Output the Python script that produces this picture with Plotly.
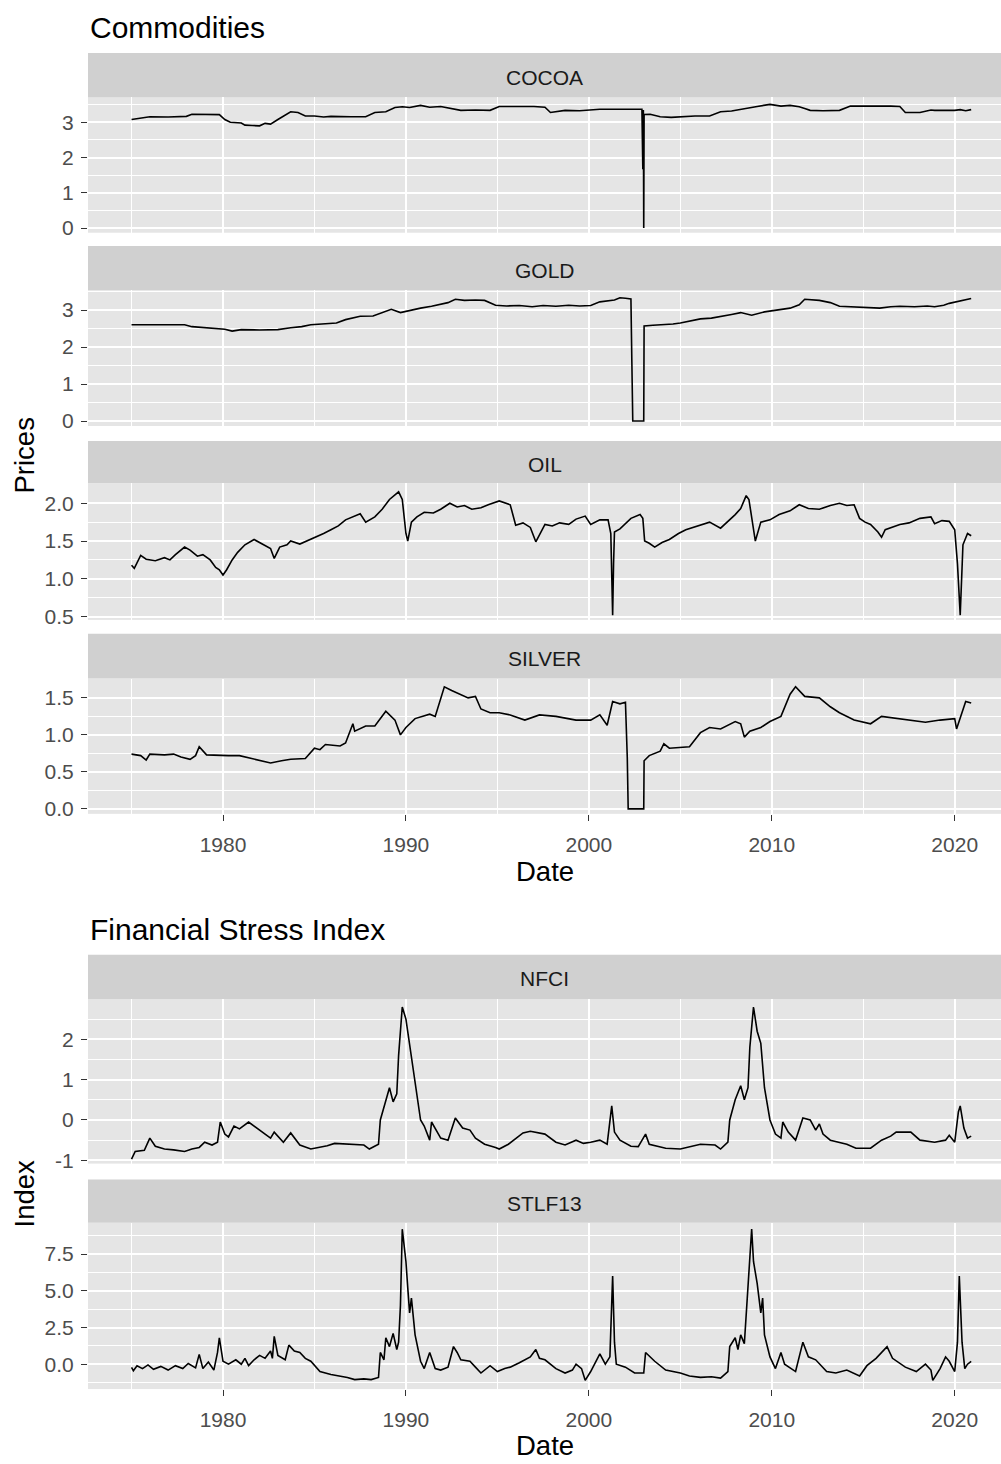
import plotly.graph_objects as go

W, H = 1001, 1464

# ---- data: (decimal year, value) readings per series ----
cocoa = [(1975.0, 3.08), (1975.2, 3.10), (1975.6, 3.12), (1976.0, 3.16), (1977.0, 3.15), (1978.0, 3.17),
         (1978.3, 3.23), (1979.0, 3.23), (1979.8, 3.22), (1980.1, 3.08), (1980.4, 3.00), (1981.0, 2.98),
         (1981.2, 2.92), (1981.6, 2.91), (1982.0, 2.90), (1982.3, 2.97), (1982.6, 2.95), (1983.0, 3.08),
         (1983.4, 3.22), (1983.7, 3.30), (1984.1, 3.28), (1984.5, 3.18), (1985.0, 3.18), (1985.5, 3.15),
         (1985.9, 3.17), (1986.4, 3.16), (1987.0, 3.16), (1987.8, 3.16), (1988.3, 3.28), (1988.9, 3.30),
         (1989.4, 3.42), (1989.8, 3.44), (1990.2, 3.42), (1990.8, 3.48), (1991.3, 3.43), (1991.9, 3.45),
         (1992.5, 3.40), (1993.0, 3.34), (1993.8, 3.35), (1994.6, 3.34), (1995.1, 3.45), (1996.0, 3.46),
         (1997.0, 3.45), (1997.6, 3.43), (1997.9, 3.28), (1998.7, 3.34), (1999.5, 3.33), (2000.6, 3.37),
         (2001.5, 3.36), (2002.3, 3.37), (2002.9, 3.37), (2002.95, 1.67), (2002.98, 3.35), (2003.0, 0.0),
         (2003.02, 3.22), (2003.35, 3.23), (2003.9, 3.16), (2004.5, 3.14), (2005.0, 3.16), (2005.8, 3.18),
         (2006.6, 3.18), (2007.2, 3.30), (2007.8, 3.32), (2008.3, 3.36), (2008.5, 3.38), (2009.2, 3.45),
         (2009.9, 3.51), (2010.5, 3.46), (2011.0, 3.48), (2011.5, 3.44), (2011.8, 3.39), (2012.1, 3.34),
         (2012.8, 3.33), (2013.7, 3.34), (2014.3, 3.46), (2015.0, 3.46), (2015.4, 3.48), (2016.0, 3.48),
         (2016.5, 3.46), (2017.0, 3.45), (2017.3, 3.28), (2018.1, 3.28), (2018.7, 3.35), (2018.9, 3.34),
         (2019.5, 3.33), (2020.0, 3.34), (2020.3, 3.36), (2020.6, 3.33), (2020.9, 3.36)]

gold = [(1975.0, 2.60), (1976.0, 2.60), (1977.0, 2.60), (1977.9, 2.60), (1978.3, 2.55), (1979.0, 2.52),
        (1979.5, 2.49), (1980.1, 2.48), (1980.5, 2.43), (1981.0, 2.47), (1982.0, 2.46), (1983.0, 2.47),
        (1983.7, 2.52), (1984.3, 2.55), (1984.8, 2.60), (1985.5, 2.62), (1986.2, 2.65), (1986.7, 2.74),
        (1987.5, 2.83), (1988.2, 2.84), (1988.9, 2.98), (1989.2, 3.02), (1989.7, 2.93), (1990.3, 3.00),
        (1990.8, 3.05), (1991.4, 3.10), (1991.9, 3.15), (1992.3, 3.20), (1992.7, 3.29), (1993.2, 3.26),
        (1993.8, 3.27), (1994.3, 3.26), (1994.9, 3.13), (1995.5, 3.11), (1996.2, 3.12), (1996.9, 3.09),
        (1997.5, 3.12), (1998.2, 3.10), (1998.9, 3.13), (1999.5, 3.11), (2000.1, 3.12), (2000.6, 3.22),
        (2001.4, 3.27), (2001.7, 3.33), (2002.0, 3.32), (2002.3, 3.30), (2002.35, 1.61), (2002.4, 0.0),
        (2003.0, 0.0), (2003.02, 2.57), (2003.5, 2.59), (2004.0, 2.60), (2004.6, 2.62), (2005.0, 2.65),
        (2005.6, 2.70), (2006.1, 2.76), (2006.7, 2.78), (2007.2, 2.82), (2007.8, 2.88), (2008.3, 2.93),
        (2008.9, 2.86), (2009.6, 2.95), (2010.3, 3.00), (2011.0, 3.05), (2011.5, 3.14), (2011.8, 3.29),
        (2012.6, 3.26), (2013.2, 3.20), (2013.7, 3.10), (2014.4, 3.08), (2015.2, 3.07), (2015.9, 3.05),
        (2016.5, 3.09), (2017.0, 3.10), (2017.8, 3.09), (2018.5, 3.11), (2018.9, 3.09), (2019.4, 3.13),
        (2019.7, 3.18), (2020.3, 3.25), (2020.6, 3.28), (2020.9, 3.31)]

oil = [(1975.0, 1.18), (1975.15, 1.14), (1975.5, 1.31), (1975.8, 1.26), (1976.3, 1.24), (1976.8, 1.28),
       (1977.1, 1.25), (1977.4, 1.32), (1977.9, 1.42), (1978.2, 1.38), (1978.6, 1.30), (1978.9, 1.32),
       (1979.3, 1.25), (1979.6, 1.15), (1979.8, 1.12), (1980.0, 1.05), (1980.2, 1.12), (1980.5, 1.25),
       (1980.8, 1.35), (1981.2, 1.45), (1981.7, 1.52), (1982.0, 1.48), (1982.3, 1.45), (1982.6, 1.40),
       (1982.8, 1.27), (1983.1, 1.42), (1983.5, 1.45), (1983.7, 1.50), (1984.2, 1.46), (1984.6, 1.50),
       (1985.0, 1.55), (1985.5, 1.60), (1985.9, 1.65), (1986.3, 1.70), (1986.7, 1.78), (1987.1, 1.82),
       (1987.5, 1.86), (1987.8, 1.75), (1988.3, 1.82), (1988.7, 1.92), (1989.1, 2.05), (1989.6, 2.15),
       (1989.8, 2.05), (1990.0, 1.60), (1990.1, 1.50), (1990.3, 1.75), (1990.6, 1.82), (1991.0, 1.88),
       (1991.5, 1.87), (1991.9, 1.92), (1992.4, 2.00), (1992.8, 1.95), (1993.2, 1.97), (1993.6, 1.92),
       (1994.1, 1.94), (1994.5, 1.98), (1995.1, 2.03), (1995.7, 1.98), (1996.0, 1.71), (1996.4, 1.74),
       (1996.8, 1.68), (1997.1, 1.49), (1997.6, 1.72), (1998.0, 1.70), (1998.4, 1.74), (1998.9, 1.72),
       (1999.3, 1.79), (1999.8, 1.83), (2000.1, 1.72), (2000.6, 1.78), (2001.05, 1.78), (2001.2, 1.60),
       (2001.3, 0.52), (2001.35, 1.20), (2001.4, 1.62), (2001.7, 1.66), (2002.3, 1.80), (2002.8, 1.85),
       (2002.95, 1.80), (2003.05, 1.50), (2003.3, 1.47), (2003.6, 1.42), (2004.0, 1.48), (2004.4, 1.52),
       (2004.9, 1.60), (2005.3, 1.65), (2005.7, 1.68), (2006.1, 1.72), (2006.6, 1.75), (2007.2, 1.67),
       (2007.7, 1.78), (2008.0, 1.85), (2008.3, 1.93), (2008.6, 2.10), (2008.75, 2.05), (2008.9, 1.80),
       (2009.1, 1.50), (2009.4, 1.75), (2009.9, 1.78), (2010.4, 1.85), (2011.0, 1.90), (2011.5, 1.98),
       (2012.0, 1.93), (2012.6, 1.92), (2013.2, 1.97), (2013.7, 2.00), (2014.1, 1.97), (2014.5, 1.98),
       (2014.8, 1.80), (2015.1, 1.75), (2015.4, 1.72), (2015.8, 1.62), (2016.0, 1.55), (2016.2, 1.65),
       (2016.6, 1.68), (2017.0, 1.72), (2017.5, 1.74), (2018.1, 1.80), (2018.7, 1.82), (2018.9, 1.73),
       (2019.3, 1.77), (2019.7, 1.76), (2020.0, 1.65), (2020.15, 1.20), (2020.3, 0.52), (2020.35, 0.80),
       (2020.45, 1.45), (2020.7, 1.60), (2020.9, 1.57)]

silver = [(1975.0, 0.74), (1975.5, 0.72), (1975.8, 0.66), (1976.0, 0.74), (1976.8, 0.73), (1977.3, 0.74),
          (1977.7, 0.70), (1978.2, 0.67), (1978.5, 0.72), (1978.7, 0.84), (1979.1, 0.73), (1979.8, 0.72),
          (1980.3, 0.72), (1980.9, 0.72), (1981.7, 0.67), (1982.6, 0.62), (1983.2, 0.65), (1983.7, 0.67),
          (1984.5, 0.68), (1985.0, 0.82), (1985.3, 0.80), (1985.6, 0.87), (1986.4, 0.85), (1986.7, 0.89),
          (1987.1, 1.15), (1987.2, 1.05), (1987.8, 1.12), (1988.3, 1.12), (1988.9, 1.32), (1989.4, 1.20),
          (1989.7, 1.00), (1990.0, 1.10), (1990.5, 1.22), (1991.3, 1.28), (1991.6, 1.25), (1991.9, 1.50),
          (1992.1, 1.65), (1992.5, 1.60), (1993.0, 1.55), (1993.4, 1.50), (1993.8, 1.52), (1994.1, 1.35),
          (1994.6, 1.30), (1995.1, 1.30), (1995.7, 1.27), (1996.5, 1.20), (1997.3, 1.27), (1998.2, 1.25),
          (1999.3, 1.20), (2000.1, 1.20), (2000.6, 1.27), (2001.0, 1.13), (2001.3, 1.45), (2001.7, 1.42),
          (2002.0, 1.44), (2002.1, 0.69), (2002.15, 0.0), (2003.0, 0.0), (2003.02, 0.65), (2003.3, 0.72),
          (2003.9, 0.78), (2004.1, 0.88), (2004.4, 0.82), (2005.0, 0.83), (2005.5, 0.84), (2006.1, 1.03),
          (2006.6, 1.10), (2007.2, 1.08), (2008.0, 1.18), (2008.3, 1.15), (2008.5, 0.97), (2008.8, 1.05),
          (2009.4, 1.10), (2009.9, 1.18), (2010.5, 1.25), (2011.0, 1.55), (2011.3, 1.65), (2011.8, 1.52),
          (2012.6, 1.50), (2013.2, 1.38), (2013.7, 1.30), (2014.5, 1.20), (2015.4, 1.15), (2016.0, 1.25),
          (2016.8, 1.22), (2017.6, 1.20), (2018.4, 1.17), (2019.2, 1.20), (2020.0, 1.22), (2020.1, 1.08),
          (2020.4, 1.30), (2020.6, 1.45), (2020.9, 1.43)]

nfci = [(1975.0, -0.97), (1975.2, -0.78), (1975.7, -0.75), (1976.0, -0.45), (1976.3, -0.65), (1976.8, -0.72),
        (1977.3, -0.74), (1977.9, -0.78), (1978.3, -0.72), (1978.7, -0.68), (1979.0, -0.55), (1979.4, -0.62),
        (1979.7, -0.55), (1979.85, -0.05), (1980.1, -0.35), (1980.3, -0.42), (1980.6, -0.15), (1980.9, -0.22),
        (1981.4, -0.05), (1981.7, -0.15), (1982.1, -0.28), (1982.4, -0.38), (1982.6, -0.45), (1982.8, -0.30),
        (1983.3, -0.55), (1983.7, -0.32), (1984.2, -0.62), (1984.8, -0.72), (1985.3, -0.68), (1985.7, -0.64),
        (1986.1, -0.58), (1986.7, -0.60), (1987.2, -0.60), (1987.7, -0.62), (1988.0, -0.72), (1988.5, -0.60),
        (1988.6, 0.00), (1988.9, 0.50), (1989.1, 0.80), (1989.3, 0.45), (1989.5, 0.65), (1989.6, 1.60),
        (1989.8, 2.80), (1990.0, 2.50), (1990.2, 1.90), (1990.5, 0.90), (1990.8, 0.00), (1991.0, -0.15),
        (1991.3, -0.50), (1991.4, -0.05), (1991.9, -0.45), (1992.3, -0.50), (1992.7, 0.05), (1993.1, -0.20),
        (1993.5, -0.25), (1993.8, -0.45), (1994.3, -0.60), (1994.9, -0.68), (1995.1, -0.72), (1995.6, -0.60),
        (1996.0, -0.45), (1996.4, -0.32), (1996.8, -0.28), (1997.2, -0.32), (1997.6, -0.35), (1998.2, -0.55),
        (1998.7, -0.62), (1999.3, -0.50), (1999.7, -0.58), (2000.1, -0.55), (2000.6, -0.50), (2001.0, -0.60),
        (2001.25, 0.35), (2001.4, -0.30), (2001.7, -0.50), (2002.3, -0.65), (2002.7, -0.66), (2003.1, -0.35),
        (2003.3, -0.60), (2004.2, -0.70), (2005.0, -0.72), (2006.1, -0.60), (2006.9, -0.62), (2007.2, -0.72),
        (2007.6, -0.55), (2007.7, 0.00), (2008.0, 0.50), (2008.3, 0.85), (2008.5, 0.50), (2008.7, 0.80),
        (2008.8, 1.80), (2009.0, 2.80), (2009.2, 2.20), (2009.4, 1.90), (2009.6, 0.80), (2009.9, 0.00),
        (2010.2, -0.35), (2010.5, -0.45), (2010.6, -0.05), (2010.9, -0.30), (2011.3, -0.50), (2011.7, 0.05),
        (2012.1, 0.00), (2012.4, -0.25), (2012.6, -0.10), (2012.8, -0.35), (2013.2, -0.50), (2014.1, -0.60),
        (2014.6, -0.70), (2015.4, -0.70), (2016.0, -0.50), (2016.5, -0.40), (2016.8, -0.30), (2017.6, -0.30),
        (2018.1, -0.50), (2018.9, -0.55), (2019.5, -0.50), (2019.7, -0.38), (2020.0, -0.55), (2020.2, 0.20),
        (2020.3, 0.35), (2020.5, -0.20), (2020.7, -0.45), (2020.9, -0.40)]

stlf13 = [(1975.0, -0.22), (1975.1, -0.45), (1975.3, -0.10), (1975.6, -0.30), (1975.9, -0.05), (1976.2, -0.35),
          (1976.6, -0.15), (1977.0, -0.40), (1977.4, -0.10), (1977.8, -0.30), (1978.1, 0.05), (1978.5, -0.25),
          (1978.7, 0.67), (1978.9, -0.30), (1979.2, 0.15), (1979.5, -0.40), (1979.7, 0.80), (1979.8, 1.80),
          (1980.0, 0.20), (1980.3, 0.00), (1980.7, 0.30), (1981.0, 0.00), (1981.2, 0.40), (1981.4, -0.10),
          (1981.7, 0.30), (1982.0, 0.60), (1982.3, 0.40), (1982.6, 0.90), (1982.7, 0.40), (1982.8, 1.90),
          (1983.0, 0.60), (1983.4, 0.30), (1983.6, 1.30), (1983.9, 0.90), (1984.2, 0.80), (1984.5, 0.40),
          (1984.8, 0.20), (1985.3, -0.50), (1985.9, -0.70), (1986.4, -0.80), (1986.8, -0.90), (1987.2, -1.05),
          (1987.7, -1.00), (1988.1, -1.05), (1988.5, -0.90), (1988.6, 0.80), (1988.8, 0.30), (1988.9, 1.80),
          (1989.1, 1.20), (1989.3, 2.10), (1989.5, 1.00), (1989.6, 1.50), (1989.7, 4.00), (1989.8, 9.20),
          (1990.0, 7.00), (1990.1, 5.20), (1990.2, 3.50), (1990.3, 4.50), (1990.5, 2.00), (1990.8, 0.20),
          (1991.0, -0.30), (1991.3, 0.80), (1991.6, -0.30), (1991.9, -0.40), (1992.3, -0.20), (1992.6, 1.20),
          (1992.8, 0.80), (1993.0, 0.30), (1993.5, 0.20), (1993.8, -0.20), (1994.1, -0.60), (1994.6, -0.10),
          (1995.0, -0.50), (1995.4, -0.30), (1995.7, -0.20), (1996.2, 0.10), (1996.8, 0.50), (1997.1, 1.00),
          (1997.3, 0.40), (1997.6, 0.30), (1998.2, -0.30), (1998.7, -0.60), (1999.1, -0.40), (1999.3, 0.00),
          (1999.6, -0.30), (1999.8, -1.10), (2000.1, -0.50), (2000.6, 0.70), (2000.9, 0.00), (2001.15, 0.50),
          (2001.3, 6.00), (2001.4, 1.50), (2001.5, 0.00), (2002.0, -0.20), (2002.5, -0.60), (2003.0, -0.60),
          (2003.1, 0.80), (2003.6, 0.20), (2004.2, -0.40), (2005.0, -0.60), (2005.5, -0.80), (2006.1, -0.90),
          (2006.7, -0.85), (2007.2, -0.95), (2007.6, -0.50), (2007.7, 1.20), (2008.0, 1.80), (2008.15, 1.00),
          (2008.3, 2.00), (2008.5, 1.40), (2008.7, 5.00), (2008.9, 9.20), (2009.0, 7.00), (2009.2, 5.50),
          (2009.4, 3.50), (2009.5, 4.50), (2009.6, 2.00), (2009.9, 0.50), (2010.2, -0.30), (2010.5, 0.80),
          (2010.7, 0.00), (2011.3, -0.50), (2011.7, 1.50), (2012.0, 0.50), (2012.4, 0.30), (2013.0, -0.50),
          (2013.5, -0.60), (2014.1, -0.40), (2014.8, -0.80), (2015.2, -0.10), (2015.7, 0.40), (2016.3, 1.20),
          (2016.6, 0.40), (2017.3, -0.20), (2017.9, -0.50), (2018.4, 0.00), (2018.7, -0.40), (2018.8, -1.10),
          (2019.2, -0.30), (2019.5, 0.50), (2019.7, 0.20), (2020.0, -0.50), (2020.15, 1.50), (2020.25, 6.00),
          (2020.4, 1.50), (2020.55, -0.30), (2020.7, 0.00), (2020.9, 0.20)]

# axis breaks
year_ticks = [1980, 1990, 2000, 2010, 2020]
year_minor = [1975, 1985, 1995, 2005, 2015]
cocoa_ticks, cocoa_minor = [0, 1, 2, 3], [0.5, 1.5, 2.5, 3.5]
gold_ticks, gold_minor = [0, 1, 2, 3], [0.5, 1.5, 2.5, 3.5]
oil_ticks, oil_minor = [0.5, 1.0, 1.5, 2.0], [0.75, 1.25, 1.75, 2.25]
silver_ticks, silver_minor = [0.0, 0.5, 1.0, 1.5], [0.25, 0.75, 1.25, 1.75]
nfci_ticks, nfci_minor = [-1, 0, 1, 2], [-0.5, 0.5, 1.5, 2.5]
stlf_ticks, stlf_minor = [0.0, 2.5, 5.0, 7.5], [-1.25, 1.25, 3.75, 6.25, 8.75]

# ---- facet geometry (pixels from top) ----
facets = [
    # label, data, strip_top, panel_top, panel_bottom, y range, ticks, minor, fmt, x labels
    ("COCOA", cocoa, 53.3, 97.7, 234.0, [-0.133, 3.714], cocoa_ticks, cocoa_minor, "{:.0f}", False),
    ("GOLD", gold, 247.4, 291.7, 428.3, [-0.134, 3.538], gold_ticks, gold_minor, "{:.0f}", False),
    ("OIL", oil, 443.3, 486.0, 623.3, [0.457, 2.263], oil_ticks, oil_minor, "{:.1f}", False),
    ("SILVER", silver, 637.3, 682.3, 818.3, [-0.067, 1.761], silver_ticks, silver_minor, "{:.1f}", True),
    ("NFCI", nfci, 960.0, 1004.5, 1170.0, [-1.081, 2.998], nfci_ticks, nfci_minor, "{:.0f}", False),
    ("STLF13", stlf13, 1186.0, 1229.5, 1396.7, [-1.694, 9.634], stlf_ticks, stlf_minor, "{:.1f}", True),
]

X_LEFT = 88
X_RANGE = [1972.62, 2022.53]
STRIP_FILL = "#D0D0D0"
PANEL_FILL = "#E5E5E5"
FONT = "Liberation Sans, Arial, sans-serif"


def py(p):
    return 1 - p / H


fig = go.Figure()
shapes, annotations = [], []
layout = {}

for i, (label, data, s_top, p_top, p_bot, yr, ticks, minor, fmt, show_x) in enumerate(facets, start=1):
    xs = [d[0] for d in data]
    ys = [d[1] for d in data]
    suffix = "" if i == 1 else str(i)
    fig.add_trace(go.Scatter(x=xs, y=ys, mode="lines", xaxis="x" + suffix, yaxis="y" + suffix,
                             line=dict(color="black", width=1.6), showlegend=False,
                             hoverinfo="x+y"))
    layout["xaxis" + suffix] = dict(
        domain=[X_LEFT / W, 1.0], range=X_RANGE, anchor="y" + suffix,
        tickmode="array", tickvals=year_ticks, ticktext=[str(t) for t in year_ticks],
        showticklabels=show_x, ticks="outside" if show_x else "", ticklen=6, tickwidth=1.4,
        tickcolor="#333333", tickfont=dict(size=21, color="#4D4D4D", family=FONT),
        ticklabelstandoff=6,
        showgrid=True, gridcolor="white", gridwidth=1.7, zeroline=False, showline=False,
        minor=dict(tickvals=year_minor, showgrid=True, gridcolor="white", gridwidth=0.9),
    )
    layout["yaxis" + suffix] = dict(
        domain=[py(p_bot), py(p_top)], range=yr, anchor="x" + suffix,
        tickmode="array", tickvals=ticks, ticktext=[fmt.format(t) for t in ticks],
        ticks="outside", ticklen=6, tickwidth=1.4, tickcolor="#333333",
        tickfont=dict(size=21, color="#4D4D4D", family=FONT), ticklabelstandoff=3,
        showgrid=True, gridcolor="white", gridwidth=1.7, zeroline=False, showline=False,
        minor=dict(tickvals=minor, showgrid=True, gridcolor="white", gridwidth=0.9),
    )
    # facet strip
    shapes.append(dict(type="rect", xref="paper", yref="paper", x0=X_LEFT / W, x1=1.0,
                       y0=py(p_top), y1=py(s_top), fillcolor=STRIP_FILL, line=dict(width=0),
                       layer="below"))
    annotations.append(dict(text=label, xref="paper", yref="paper", x=(X_LEFT + W) / 2 / W,
                            y=py((s_top + p_top) / 2 + 2), xanchor="center", yanchor="middle",
                            showarrow=False, font=dict(size=21, color="#1A1A1A", family=FONT)))

# titles
for text, x, y, size, angle, anchor in [
    ("Commodities", X_LEFT, 28, 30, 0, "left"),
    ("Financial Stress Index", X_LEFT, 935, 30, 0, "left"),
    ("Date", (X_LEFT + W) / 2, 876, 27.5, 0, "center"),
    ("Date", (X_LEFT + W) / 2, 1453, 27.5, 0, "center"),
    ("Prices", 24, 458, 27.5, -90, "center"),
    ("Index", 24, 1200, 27.5, -90, "center"),
]:
    annotations.append(dict(text=text, xref="paper", yref="paper", x=x / W, y=py(y),
                            xanchor=anchor, yanchor="middle", textangle=angle, showarrow=False,
                            font=dict(size=size, color="black", family=FONT)))

fig.update_layout(
    width=W, height=H, margin=dict(l=0, r=0, t=0, b=0),
    paper_bgcolor="white", plot_bgcolor=PANEL_FILL,
    font=dict(family=FONT), shapes=shapes, annotations=annotations, **layout,
)

fig.write_html("out.html")
